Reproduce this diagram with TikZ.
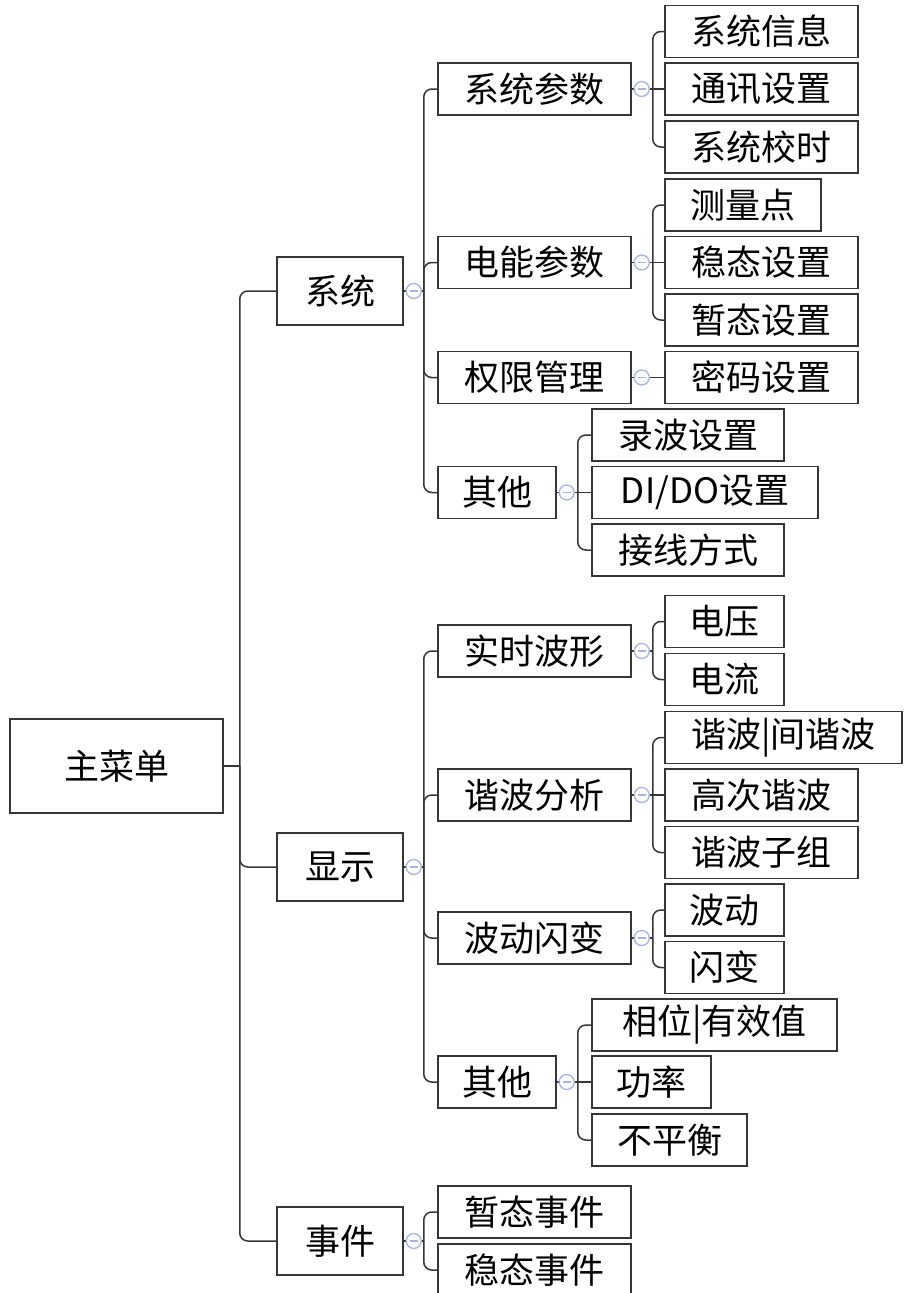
\documentclass[tikz,border=0pt]{standalone}
\usepackage{fontspec}
\setmainfont{Noto Sans CJK SC}
\usetikzlibrary{calc}
\definecolor{lnc}{HTML}{363636}
\definecolor{mkc}{HTML}{A6B2EA}
\begin{document}
\begin{tikzpicture}[x=1pt,y=-1pt,
  box/.style={draw=lnc, line width=1.5pt, fill=white, inner sep=0pt, font=\fontsize{35}{41}\selectfont},
  conn/.style={draw=lnc, line width=1.5pt, rounded corners=8pt},
  collapsemk/.style={circle, draw=mkc, fill=white, line width=1.3pt, minimum size=15pt, inner sep=0pt,
    path picture={\draw[mkc,line width=1.3pt] ([xshift=-4pt]path picture bounding box.center) -- ([xshift=4pt]path picture bounding box.center);}}]
\useasboundingbox (0,0) rectangle (903,1293);
% root
\node[box, minimum width=213pt, minimum height=94pt] (root) at (116.5,766) {主菜单};
% level 1
\node[box, minimum width=126pt, minimum height=68pt] (xt) at (340,291) {系统};
\node[box, minimum width=126pt, minimum height=68pt] (xs) at (340,867) {显示};
\node[box, minimum width=126pt, minimum height=68pt] (sj) at (340,1241) {事件};
% level 2
\node[box, minimum width=193pt, minimum height=52pt] (xtcs) at (534.5,89) {系统参数};
\node[box, minimum width=193pt, minimum height=52pt] (dncs) at (534.5,262.5) {电能参数};
\node[box, minimum width=193pt, minimum height=52pt] (qxgl) at (534.5,377.5) {权限管理};
\node[box, minimum width=118pt, minimum height=52pt] (qta) at (497,492.5) {其他};
\node[box, minimum width=193pt, minimum height=52pt] (sswx) at (534.5,651) {实时波形};
\node[box, minimum width=193pt, minimum height=52pt] (xbfx) at (534.5,795) {谐波分析};
\node[box, minimum width=193pt, minimum height=52pt] (bdsb) at (534.5,938) {波动闪变};
\node[box, minimum width=118pt, minimum height=52pt] (qtb) at (497,1082) {其他};
\node[box, minimum width=193pt, minimum height=52pt] (ztsj) at (534.5,1212) {暂态事件};
\node[box, minimum width=193pt, minimum height=52pt] (wtsj) at (534.5,1270) {稳态事件};
% level 3
\node[box, minimum width=193pt, minimum height=52pt] (xtxx) at (761.5,31.5) {系统信息};
\node[box, minimum width=193pt, minimum height=52pt] (txsz) at (761.5,89) {通讯设置};
\node[box, minimum width=193pt, minimum height=52pt] (xtjs) at (761.5,147) {系统校时};
\node[box, minimum width=156pt, minimum height=52pt] (cld) at (743,205) {测量点};
\node[box, minimum width=193pt, minimum height=52pt] (wtsz) at (761.5,262.5) {稳态设置};
\node[box, minimum width=193pt, minimum height=52pt] (ztsz) at (761.5,320) {暂态设置};
\node[box, minimum width=193pt, minimum height=52pt] (mmsz) at (761.5,377.5) {密码设置};
\node[box, minimum width=192pt, minimum height=52pt] (lbsz) at (688,435) {录波设置};
\node[box, minimum width=226pt, minimum height=52pt] (dido) at (705,492.5) {DI/DO设置};
\node[box, minimum width=192pt, minimum height=52pt] (jxfs) at (688,550) {接线方式};
\node[box, minimum width=119pt, minimum height=52pt] (dy) at (724.5,621.5) {电压};
\node[box, minimum width=119pt, minimum height=52pt] (dl) at (724.5,679.5) {电流};
\node[box, minimum width=237pt, minimum height=52pt] (xbjxb) at (783.5,737.5) {谐波|间谐波};
\node[box, minimum width=193pt, minimum height=52pt] (gcxb) at (761.5,795) {高次谐波};
\node[box, minimum width=193pt, minimum height=52pt] (xbzz) at (761.5,852.5) {谐波子组};
\node[box, minimum width=119pt, minimum height=52pt] (bd) at (724.5,910) {波动};
\node[box, minimum width=119pt, minimum height=52pt] (sb) at (724.5,967.5) {闪变};
\node[box, minimum width=245pt, minimum height=52pt] (xwyxz) at (714.5,1025) {相位|有效值};
\node[box, minimum width=119pt, minimum height=52pt] (gl) at (651.5,1082) {功率};
\node[box, minimum width=155pt, minimum height=52pt] (bph) at (669.5,1140) {不平衡};
% junctions
\coordinate (j0) at ($(root.east)+(16,0)$);
\coordinate (j1) at ($(xt.east)+(20,0)$);
\coordinate (j2) at ($(xs.east)+(20,0)$);
\coordinate (j3) at ($(sj.east)+(20,0)$);
\coordinate (j4) at ($(xtcs.east)+(21,0)$);
\coordinate (j5) at ($(dncs.east)+(21,0)$);
\coordinate (j6) at ($(qxgl.east)+(21,0)$);
\coordinate (j7) at ($(qta.east)+(21,0)$);
\coordinate (j8) at ($(sswx.east)+(21,0)$);
\coordinate (j9) at ($(xbfx.east)+(21,0)$);
\coordinate (j10) at ($(bdsb.east)+(21,0)$);
\coordinate (j11) at ($(qtb.east)+(21,0)$);
% connectors
\draw[conn] (root.east) -- (j0);
\foreach \c in {xt,xs,sj} \draw[conn] (j0) |- (\c.west);
\draw[conn] (xt.east) -- (j1);
\foreach \c in {xtcs,dncs,qxgl,qta} \draw[conn] (j1) |- (\c.west);
\draw[conn] (xs.east) -- (j2);
\foreach \c in {sswx,xbfx,bdsb,qtb} \draw[conn] (j2) |- (\c.west);
\draw[conn] (sj.east) -- (j3);
\foreach \c in {ztsj,wtsj} \draw[conn] (j3) |- (\c.west);
\draw[conn] (xtcs.east) -- (j4);
\foreach \c in {xtxx,xtjs} \draw[conn] (j4) |- (\c.west);
\draw[conn] (j4) -- (txsz.west);
\draw[conn] (dncs.east) -- (j5);
\foreach \c in {cld,ztsz} \draw[conn] (j5) |- (\c.west);
\draw[conn] (j5) -- (wtsz.west);
\draw[conn] (qxgl.east) -- (j6);
\draw[conn] (j6) -- (mmsz.west);
\draw[conn] (qta.east) -- (j7);
\foreach \c in {lbsz,jxfs} \draw[conn] (j7) |- (\c.west);
\draw[conn] (j7) -- (dido.west);
\draw[conn] (sswx.east) -- (j8);
\foreach \c in {dy,dl} \draw[conn] (j8) |- (\c.west);
\draw[conn] (xbfx.east) -- (j9);
\foreach \c in {xbjxb,xbzz} \draw[conn] (j9) |- (\c.west);
\draw[conn] (j9) -- (gcxb.west);
\draw[conn] (bdsb.east) -- (j10);
\foreach \c in {bd,sb} \draw[conn] (j10) |- (\c.west);
\draw[conn] (qtb.east) -- (j11);
\foreach \c in {xwyxz,bph} \draw[conn] (j11) |- (\c.west);
\draw[conn] (j11) -- (gl.west);
% collapse markers
\node[collapsemk] (m1) at ($(xt.east)+(10,0)$) {};
\node[collapsemk] (m2) at ($(xs.east)+(10,0)$) {};
\node[collapsemk] (m3) at ($(sj.east)+(10,0)$) {};
\node[collapsemk] (m4) at ($(xtcs.east)+(10,0)$) {};
\node[collapsemk] (m5) at ($(dncs.east)+(10,0)$) {};
\node[collapsemk] (m6) at ($(qxgl.east)+(10,0)$) {};
\node[collapsemk] (m7) at ($(qta.east)+(10,0)$) {};
\node[collapsemk] (m8) at ($(sswx.east)+(10,0)$) {};
\node[collapsemk] (m9) at ($(xbfx.east)+(10,0)$) {};
\node[collapsemk] (m10) at ($(bdsb.east)+(10,0)$) {};
\node[collapsemk] (m11) at ($(qtb.east)+(10,0)$) {};
\end{tikzpicture}
\end{document}
